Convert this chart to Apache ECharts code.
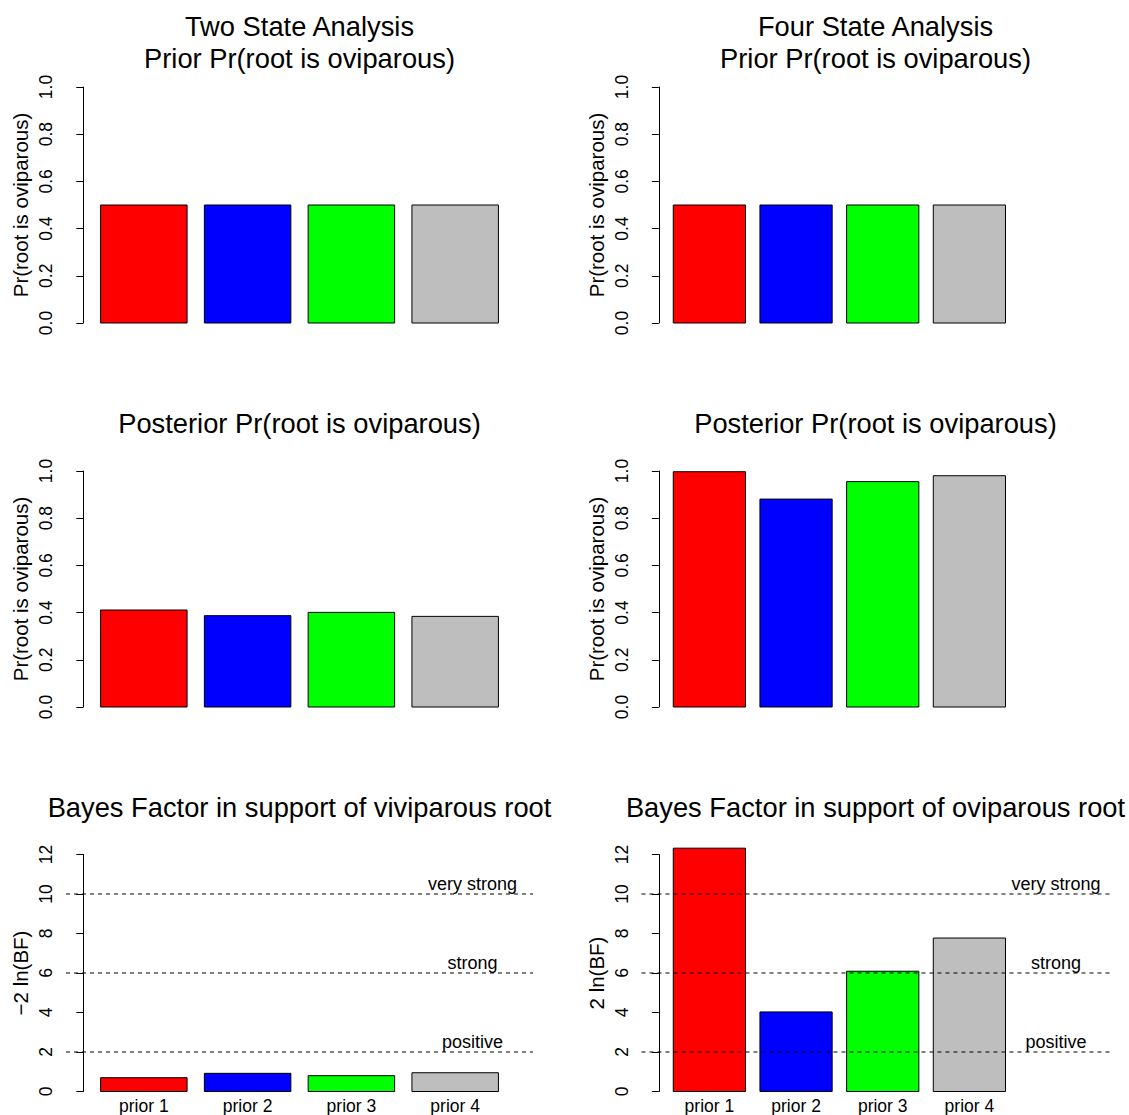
<!DOCTYPE html>
<html><head><meta charset="utf-8">
<script src="https://cdn.jsdelivr.net/npm/echarts@6/dist/echarts.min.js"></script>
<style>html,body{margin:0;padding:0;background:#fff}#c{width:1129px;height:1115px}</style>
</head><body><div id="c"></div>
<script>
// ---- data ----
const priors = ['prior 1', 'prior 2', 'prior 3', 'prior 4'];
const barColors = ['#FF0000', '#0000FF', '#00FF00', '#BEBEBE'];
const twoStatePrior = [0.5, 0.5, 0.5, 0.5];
const fourStatePrior = [0.5, 0.5, 0.5, 0.5];
const twoStatePosterior = [0.411, 0.387, 0.401, 0.384];
const fourStatePosterior = [0.997, 0.881, 0.955, 0.980];
const bfViviparous = [0.70, 0.92, 0.80, 0.95];
const bfOviparous = [12.32, 4.03, 6.09, 7.77];
const bfThresholds = [2, 6, 10];
const bfThresholdLabels = ['positive', 'strong', 'very strong'];
const probTicks = ['0.0', '0.2', '0.4', '0.6', '0.8', '1.0'];
const bfTicks = ['0', '2', '4', '6', '8', '10', '12'];
const titles = [
  'Two State Analysis\nPrior Pr(root is oviparous)',
  'Four State Analysis\nPrior Pr(root is oviparous)',
  'Posterior Pr(root is oviparous)',
  'Posterior Pr(root is oviparous)',
  'Bayes Factor in support of viviparous root',
  'Bayes Factor in support of oviparous root'
];
const yNames = ['Pr(root is oviparous)', 'Pr(root is oviparous)', 'Pr(root is oviparous)',
  'Pr(root is oviparous)', '\u22122 ln(BF)', '2 ln(BF)'];

// ---- layout ----
const FONT = '"Liberation Sans", Arial, Helvetica, sans-serif';
const BAR_W = 1, SPACE = 0.2;
const cols = [
  { left: 66, width: 467, xmin: -0.2, xmax: 5.2, labelX: 4.5 },
  { left: 641.5, width: 468, xmin: -0.24, xmax: 6.24, labelX: 5.5 }
];
const rows = [
  { top: 87, height: 236, titleTop: 10 },
  { top: 471, height: 236, titleTop: 407 },
  { top: 854.5, height: 237, titleTop: 791 }
];
const panelData = [twoStatePrior, fourStatePrior, twoStatePosterior, fourStatePosterior, bfViviparous, bfOviparous];

const grid = [], xAxis = [], yAxis = [], series = [], title = [];
for (let r = 0; r < 3; r++) {
  for (let c = 0; c < 2; c++) {
    const gi = r * 2 + c;
    const col = cols[c], row = rows[r];
    const isBF = r === 2;
    grid.push({ left: col.left, top: row.top, width: col.width, height: row.height, containLabel: false });
    xAxis.push({ gridIndex: gi, type: 'value', min: col.xmin, max: col.xmax, show: false });
    const ticks = isBF ? bfTicks : probTicks;
    const interval = isBF ? 2 : 0.2;
    yAxis.push({
      gridIndex: gi, type: 'value', min: 0, max: isBF ? 12 : 1, interval: interval,
      axisLine: { show: true, lineStyle: { color: '#000', width: 1 } },
      axisTick: { show: true, length: 7, lineStyle: { color: '#000', width: 1 } },
      splitLine: { show: false },
      axisLabel: {
        rotate: 90, margin: 11, fontSize: 17.5, color: '#000', fontFamily: FONT,
        formatter: v => ticks[Math.round(v / interval)]
      },
      name: yNames[gi], nameLocation: 'middle', nameGap: 35,
      nameTextStyle: { fontSize: 20.5, color: '#000', fontFamily: FONT }
    });
    title.push({
      text: titles[gi], left: col.left + col.width / 2, textAlign: 'center', top: row.titleTop, padding: 0,
      textStyle: { fontSize: 27.3, fontWeight: 'normal', color: '#000', fontFamily: FONT, lineHeight: 32 }
    });
    const vals = panelData[gi];
    series.push({
      type: 'custom', xAxisIndex: gi, yAxisIndex: gi, clip: false, silent: true,
      data: vals.map((v, i) => [i, v]),
      renderItem: (params, api) => {
        const i = api.value(0), v = api.value(1);
        const x0 = SPACE + i * (BAR_W + SPACE);
        const p0 = api.coord([x0, 0]), p1 = api.coord([x0 + BAR_W, v]);
        const children = [{
          type: 'rect',
          shape: { x: p0[0], y: p1[1], width: p1[0] - p0[0], height: p0[1] - p1[1] },
          style: { fill: barColors[i], stroke: '#000', lineWidth: 1 }
        }];
        if (isBF) {
          children.push({
            type: 'text', x: (p0[0] + p1[0]) / 2, y: p0[1] + 14,
            style: { text: priors[i], fill: '#000', font: '17.5px ' + FONT,
              align: 'center', verticalAlign: 'middle', textAlign: 'center', textVerticalAlign: 'middle' }
          });
        }
        return { type: 'group', children: children };
      }
    });
    if (isBF) {
      series.push({
        type: 'custom', xAxisIndex: gi, yAxisIndex: gi, clip: false, silent: true,
        data: bfThresholds.map((t, k) => [k, t]),
        renderItem: (params, api) => {
          const k = api.value(0), t = api.value(1);
          const a = api.coord([col.xmin, t]), b = api.coord([col.xmax, t]);
          const m = api.coord([col.labelX, t]);
          return {
            type: 'group', children: [
              { type: 'line', shape: { x1: a[0], y1: a[1], x2: b[0], y2: b[1] },
                style: { stroke: '#000', lineWidth: 1, lineDash: [4, 4] } },
              { type: 'text', x: m[0], y: m[1] - 1,
                style: { text: bfThresholdLabels[k], fill: '#000', font: '18px ' + FONT,
                  align: 'center', verticalAlign: 'bottom', textAlign: 'center', textVerticalAlign: 'bottom' } }
            ]
          };
        }
      });
    }
  }
}

const chart = echarts.init(document.getElementById('c'), null, { renderer: 'svg' });
chart.setOption({ animation: false, backgroundColor: '#fff', title, grid, xAxis, yAxis, series });
</script>
</body></html>
